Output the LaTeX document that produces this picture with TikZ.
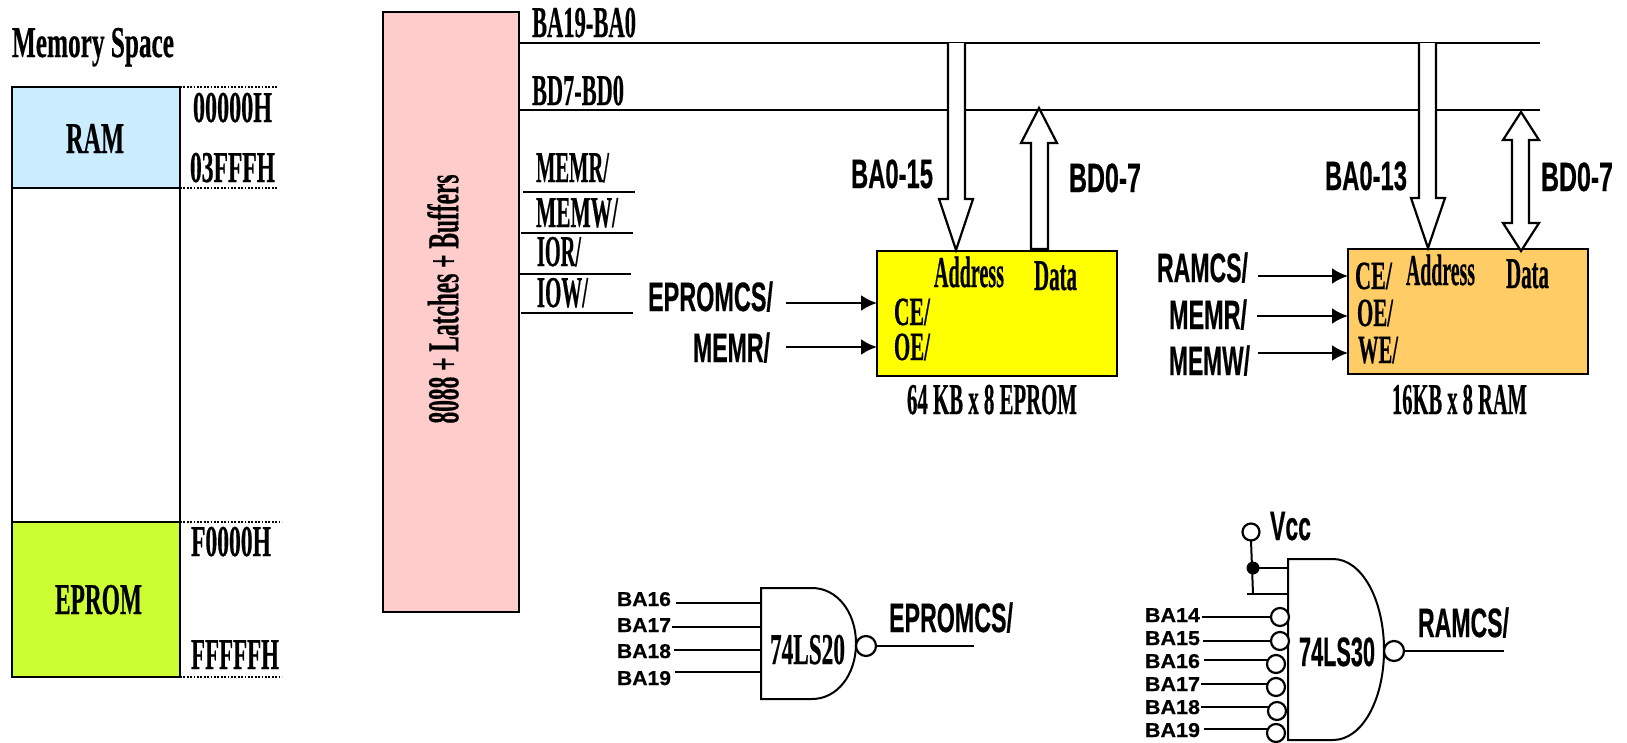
\documentclass[tikz,border=0pt]{standalone}
\usepackage{fontspec}
\usepackage{graphicx}
\usetikzlibrary{arrows.meta}
\newfontfamily\serfont[BoldFeatures={FakeBold=0.6}]{Liberation Serif}
\newfontfamily\sanfont[BoldFeatures={FakeBold=0.6}]{Liberation Sans}
\newcommand{\txr}[2]{\resizebox{#1pt}{\height}{\fontsize{44}{44}\serfont\bfseries #2}}
\newcommand{\txc}[2]{\resizebox{#1pt}{\height}{\fontsize{40}{40}\serfont\bfseries #2}}
\newcommand{\txs}[2]{\resizebox{#1pt}{\height}{\fontsize{41}{41}\sanfont\bfseries #2}}
\newcommand{\txm}[2]{\resizebox{#1pt}{\height}{\fontsize{20}{20}\sanfont\bfseries #2}}
\definecolor{ramblue}{HTML}{CCECFF}
\definecolor{epromgreen}{HTML}{CCFF33}
\definecolor{pinkbox}{HTML}{FFCCCC}
\definecolor{chipyellow}{HTML}{FFFF00}
\definecolor{chiporange}{HTML}{FFCC66}
\tikzset{
 lab/.style={anchor=base west,inner sep=0pt,outer sep=0pt},
 box/.style={draw=black,line width=2pt,anchor=north west,inner sep=0pt,outer sep=0pt},
 wire/.style={draw=black,line width=2pt},
 sig/.style={draw=black,line width=2.6pt,-{Latex[length=16pt,width=16pt]}},
 dots/.style={draw=black,line width=1.8pt,dash pattern=on 1.7pt off 1.7pt},
 bus/.style={draw=black,line width=2.2pt,fill=white,line join=miter},
 bub/.style={draw=black,line width=2.2pt,fill=white,circle,inner sep=0pt,outer sep=0pt},
}
\begin{document}
\begin{tikzpicture}[x=1pt,y=-1pt]
\useasboundingbox (0,0) rectangle (1627,742);
% Memory map
\node[box,minimum width=168pt,minimum height=590pt] (memmap) at (12,87) {};
\node[box,fill=ramblue,minimum width=168pt,minimum height=101pt] (rambox) at (12,87) {};
\node[box,fill=epromgreen,minimum width=168pt,minimum height=155pt] (epbox) at (12,522) {};
\node[lab] (mtitle) at (12,57) {\txr{162}{Memory Space}};
\node[lab] (tram) at (66,153) {\txr{58}{RAM}};
\node[lab] (teprom) at (55,614) {\txr{87}{EPROM}};
\node[lab] (a0) at (193,122) {\txr{79}{00000H}};
\node[lab] (a1) at (190,182) {\txr{85}{03FFFH}};
\node[lab] (a2) at (191,556) {\txr{80}{F0000H}};
\node[lab] (a3) at (191,669) {\txr{88}{FFFFFH}};
\coordinate (d0) at (277,87); \coordinate (d1) at (278,188);
\coordinate (d2) at (282,522); \coordinate (d3) at (282,677);
\draw[dots] (rambox.north east) -- (d0);
\draw[dots] (rambox.south east) -- (d1);
\draw[dots] (epbox.north east) -- (d2);
\draw[dots] (epbox.south east) -- (d3);
% CPU block
\node[box,fill=pinkbox,line width=1.8pt,minimum width=136pt,minimum height=600pt] (cpu) at (383,12) {};
\node[inner sep=0pt,rotate=90] (tcpu) at (443,299) {\txr{249}{8088 + Latches + Buffers}};
% Buses
\coordinate (b1s) at (519,43); \coordinate (b1e) at (1540,43);
\coordinate (b2s) at (519,110); \coordinate (b2e) at (1540,110);
\draw[wire] (b1s) -- (b1e);
\draw[wire] (b2s) -- (b2e);
\node[lab] (tb1) at (532,37) {\txr{104}{BA19-BA0}};
\node[lab] (tb2) at (532,105) {\txr{92}{BD7-BD0}};
% Control lines
\node[lab] (c1) at (536,182) {\txr{73}{MEMR/}};
\node[lab] (c2) at (536,227) {\txr{82}{MEMW/}};
\node[lab] (c3) at (537,266) {\txr{44}{IOR/}};
\node[lab] (c4) at (537,307) {\txr{51}{IOW/}};
\coordinate (l1a) at (523,192); \coordinate (l1b) at (635,192);
\coordinate (l2a) at (521,233); \coordinate (l2b) at (633,233);
\coordinate (l3a) at (520,274); \coordinate (l3b) at (631,274);
\coordinate (l4a) at (521,313); \coordinate (l4b) at (633,313);
\draw[wire] (l1a) -- (l1b);
\draw[wire] (l2a) -- (l2b);
\draw[wire] (l3a) -- (l3b);
\draw[wire] (l4a) -- (l4b);
% EPROM chip
\node[box,fill=chipyellow,minimum width=239.5pt,minimum height=125.5pt] (eprom) at (877,250.5) {};
\draw[bus] (948,43) -- (948,199) -- (939,199) -- (956,250) -- (973,199) -- (965,199) -- (965,43);
\draw[bus] (1031,249) -- (1031,143) -- (1021,143) -- (1039,108) -- (1057,143) -- (1048,143) -- (1048,249) -- cycle;
\node[lab] (eaddr) at (934,287) {\txr{70}{Address}};
\node[lab] (edata) at (1034,290) {\txr{43}{Data}};
\node[lab] (ece) at (894,325) {\txc{36}{CE/}};
\node[lab] (eoe) at (894,360) {\txc{36}{OE/}};
\node[lab] (ecap) at (907,414) {\txr{170}{64 KB x 8 EPROM}};
\node[lab] (eba) at (851,188) {\txs{82}{BA0-15}};
\node[lab] (ebd) at (1069,192) {\txs{72}{BD0-7}};
\node[lab] (ecs) at (648,311) {\txs{125}{EPROMCS/}};
\node[lab] (emr) at (693,362) {\txs{77}{MEMR/}};
\coordinate (ea1) at (786,303); \coordinate (ea2) at (786,347);
\draw[sig] (ea1) -- (eprom.west |- ea1);
\draw[sig] (ea2) -- (eprom.west |- ea2);
% RAM chip
\node[box,fill=chiporange,minimum width=240pt,minimum height=125pt] (ram) at (1348,249) {};
\draw[bus] (1419,43) -- (1419,198) -- (1411,198) -- (1428,248) -- (1445,198) -- (1436,198) -- (1436,43);
\draw[bus] (1521,112) -- (1539,140) -- (1529,140) -- (1529,223) -- (1539,223) -- (1521,251) -- (1503,223) -- (1512,223) -- (1512,140) -- (1503,140) -- cycle;
\node[lab] (raddr) at (1406,285) {\txr{69}{Address}};
\node[lab] (rdata) at (1506,288) {\txr{43}{Data}};
\node[lab] (rce) at (1355,289) {\txc{37}{CE/}};
\node[lab] (roe) at (1357,326) {\txc{36}{OE/}};
\node[lab] (rwe) at (1358,363) {\txc{40}{WE/}};
\node[lab] (rcap) at (1392,414) {\txr{135}{16KB x 8 RAM}};
\node[lab] (rba) at (1325,190) {\txs{82}{BA0-13}};
\node[lab] (rbd) at (1541,191) {\txs{72}{BD0-7}};
\node[lab] (rcs) at (1157,282) {\txs{91}{RAMCS/}};
\node[lab] (rmr) at (1169,329) {\txs{78}{MEMR/}};
\node[lab] (rmw) at (1169,375) {\txs{81}{MEMW/}};
\coordinate (ra1) at (1258,276); \coordinate (ra2) at (1257,316); \coordinate (ra3) at (1258,353);
\draw[sig] (ra1) -- (ram.west |- ra1);
\draw[sig] (ra2) -- (ram.west |- ra2);
\draw[sig] (ra3) -- (ram.west |- ra3);
% 74LS20
\draw[wire,fill=white] (761,588) -- (812,588) .. controls (837,588) and (856,612) .. (856,643.5) .. controls (856,675) and (837,699) .. (812,699) -- (761,699) -- cycle;
\coordinate (g1) at (761,643);
\node[lab] (g1t) at (770,664) {\txr{75}{74LS20}};
\node[bub,minimum size=20pt] (g1b) at (866,646) {};
\coordinate (g1o) at (974,646);
\draw[wire] (g1b.east) -- (g1o);
\node[lab] (g1n) at (889,632) {\txs{124}{EPROMCS/}};
\node[lab] (i16) at (617,606) {\txm{54}{BA16}};
\node[lab] (i17) at (617,632) {\txm{54}{BA17}};
\node[lab] (i18) at (617,658) {\txm{54}{BA18}};
\node[lab] (i19) at (617,685) {\txm{54}{BA19}};
\coordinate (w16) at (676,603); \coordinate (w17) at (672,627); \coordinate (w18) at (674,650); \coordinate (w19) at (675,672);
\draw[wire] (w16) -- (w16 -| g1);
\draw[wire] (w17) -- (w17 -| g1);
\draw[wire] (w18) -- (w18 -| g1);
\draw[wire] (w19) -- (w19 -| g1);
% 74LS30
\coordinate (g2) at (1288,650);
\coordinate (vw1) at (1253,568); \coordinate (vw2) at (1253,594); \coordinate (vw3) at (1247,594);
\node[bub,minimum size=17pt] (vcc) at (1251,532) {};
\draw[wire] (vcc.south) -- (vw2);
\draw[wire] (vw1) -- (vw1 -| g2);
\draw[wire] (vw3) -- (vw3 -| g2);
\node[circle,fill=black,inner sep=0pt,minimum size=13pt] (vdot) at (vw1) {};
\node[lab] (tvcc) at (1270,540) {\txs{41}{Vcc}};
\draw[wire,fill=white] (1288,559) -- (1333,559) .. controls (1362,559) and (1384,600) .. (1384,650) .. controls (1384,700) and (1362,740) .. (1333,740) -- (1288,740) -- cycle;
\node[lab] (g2t) at (1299,666) {\txs{76}{74LS30}};
\node[bub,minimum size=20pt] (g2b) at (1394,651) {};
\coordinate (g2o) at (1504,651);
\draw[wire] (g2b.east) -- (g2o);
\node[lab] (g2n) at (1418,637) {\txs{91}{RAMCS/}};
\node[bub,minimum size=18pt] (b14) at (1280,617) {};
\node[bub,minimum size=18pt] (b15) at (1280,641) {};
\node[bub,minimum size=18pt] (b16) at (1276,664) {};
\node[bub,minimum size=18pt] (b17) at (1276,687) {};
\node[bub,minimum size=18pt] (b18) at (1277,711) {};
\node[bub,minimum size=18pt] (b19) at (1276,733) {};
\node[lab] (j14) at (1145,622) {\txm{55}{BA14}};
\node[lab] (j15) at (1145,645) {\txm{55}{BA15}};
\node[lab] (j16) at (1145,668) {\txm{55}{BA16}};
\node[lab] (j17) at (1145,691) {\txm{55}{BA17}};
\node[lab] (j18) at (1145,714) {\txm{55}{BA18}};
\node[lab] (j19) at (1145,737) {\txm{55}{BA19}};
\coordinate (x14) at (1202,617); \coordinate (x15) at (1203,641); \coordinate (x16) at (1204,660);
\coordinate (x17) at (1201,684); \coordinate (x18) at (1201,707); \coordinate (x19) at (1204,729);
\draw[wire] (x14) -- (b14);
\draw[wire] (x15) -- (b15);
\draw[wire] (x16) -- (x16 -| b16.west);
\draw[wire] (x17) -- (x17 -| b17.west);
\draw[wire] (x18) -- (x18 -| b18.west);
\draw[wire] (x19) -- (x19 -| b19.west);
\end{tikzpicture}
\end{document}
